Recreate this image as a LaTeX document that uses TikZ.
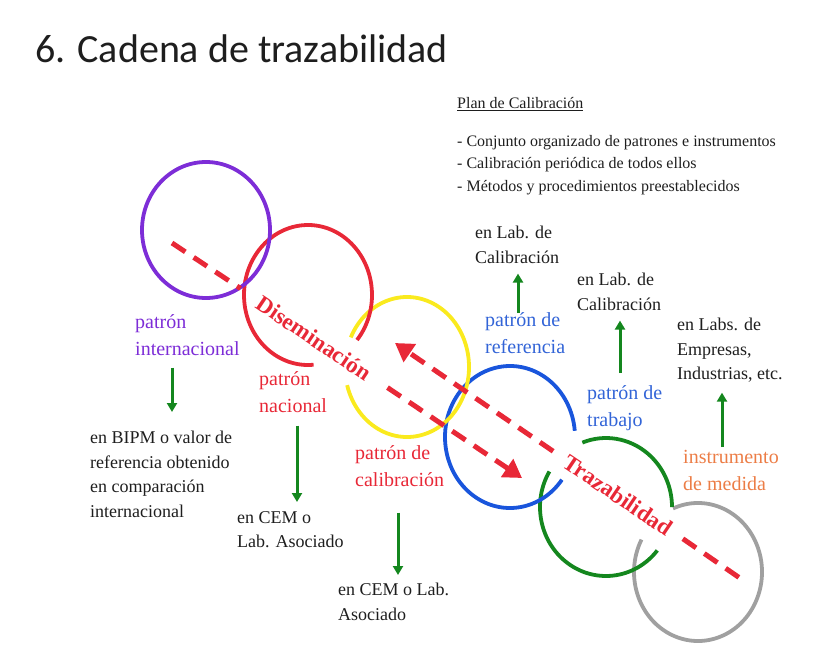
\documentclass[tikz,border=0pt]{standalone}
\usepackage{fontspec}
\setmainfont{Liberation Serif}
\newfontfamily\titlefont{Carlito}
\usetikzlibrary{arrows.meta}
\definecolor{violeta}{RGB}{125,45,215}
\definecolor{rojo}{RGB}{232,40,55}
\definecolor{amarillo}{RGB}{250,234,30}
\definecolor{azul}{RGB}{25,85,220}
\definecolor{azultxt}{RGB}{50,100,215}
\definecolor{verde}{RGB}{20,135,30}
\definecolor{gris}{RGB}{160,160,160}
\definecolor{naranja}{RGB}{236,125,70}
\definecolor{tinta}{RGB}{30,30,30}

\begin{document}
\begin{tikzpicture}[
    x=1pt, y=-1pt,
    anillo/.style={line width=3.8pt},
    etiqueta/.style={anchor=north west, align=left, inner sep=0pt, text=tinta, font=\fontsize{18}{24.5}\selectfont},
    patron/.style={anchor=north west, align=left, inner sep=0pt, font=\fontsize{20}{27}\selectfont},
    flecha/.style={draw=verde, line width=3pt, -{Triangle[length=9pt, width=10pt]}},
    eje/.style={draw=rojo, line width=5pt, dash pattern=on 16pt off 10pt},
    punta/.style={-{Triangle[length=18pt, width=21pt]}},
    ejetexto/.style={text=rojo, font=\fontsize{23}{23}\selectfont\bfseries, inner ysep=0pt, rotate=-34}
]
\useasboundingbox (0,0) rectangle (836,658);

% Titulo
\node[anchor=base west, inner sep=0pt, text=tinta, font=\titlefont\fontsize{40}{40}\selectfont] (titulo) at (35,63) {6. Cadena de trazabilidad};

% Plan de calibracion
\node[anchor=base west, inner sep=0pt, text=tinta, font=\fontsize{16}{22.5}\selectfont] (plan) at (457,109) {\underline{Plan de Calibración}};
\node[etiqueta, font=\fontsize{16}{22.5}\selectfont] (lista) at (457,135) {- Conjunto organizado de patrones e instrumentos\\- Calibración periódica de todos ellos\\- Métodos y procedimientos preestablecidos};

% Anillos de la cadena
\draw[anillo, gris] (698,572) ++(247:64 and 69) arc[start angle=247, end angle=568, x radius=64, y radius=69];
\draw[anillo, verde] (606,507) ++(-111:66 and 69) arc[start angle=-111, end angle=0, x radius=66, y radius=69];
\draw[anillo, verde] (606,507) ++(39:66 and 69) arc[start angle=39, end angle=211, x radius=66, y radius=69];
\draw[anillo, azul] (510,437) ++(37:65 and 71) arc[start angle=37, end angle=355, x radius=65, y radius=71];
\draw[anillo, amarillo] (407,367) ++(205:62 and 70) arc[start angle=205, end angle=525, x radius=62, y radius=70];
\draw[anillo, rojo] (308,295) ++(85:64 and 70) arc[start angle=85, end angle=400, x radius=64, y radius=70];
\draw[anillo, violeta] (206,230) ellipse [x radius=64, y radius=68];

% Diseminacion y trazabilidad
\coordinate (disIni) at (172,243);
\coordinate (disFin) at (522,478);
\coordinate (trzIni) at (747,583);
\coordinate (trzFin) at (395,343);
\node[ejetexto, inner xsep=22pt] (dis) at (314,338) {Diseminación};
\node[ejetexto, inner xsep=15pt] (trz) at (618,495) {Trazabilidad};
\draw[eje] (disIni) -- (dis.west);
\draw[eje, punta] (dis.east) -- (disFin);
\draw[eje, punta] (trz.west) -- (trzFin);
\draw[eje] (trz.east) -- (trzIni);

% Patrones
\node[patron, text=violeta] (pint) at (135,314) {patrón\\internacional};
\node[patron, text=rojo] (pnac) at (259,371) {patrón\\nacional};
\node[patron, text=rojo] (pcal) at (355,445) {patrón de\\calibración};
\node[patron, text=azultxt] (pref) at (485,312) {patrón de\\referencia};
\node[patron, text=azultxt] (ptra) at (587,385) {patrón de\\trabajo};
\node[patron, text=naranja] (inst) at (683,450) {instrumento\\de medida};

% Donde se mantienen
\node[etiqueta] (bipm) at (90,431) {en BIPM o valor de\\referencia obtenido\\en comparación\\internacional};
\node[etiqueta] (cem1) at (237,511) {en CEM o\\Lab. Asociado};
\node[etiqueta] (cem2) at (338,583) {en CEM o Lab.\\Asociado};
\node[etiqueta] (labref) at (475,226) {en Lab. de\\Calibración};
\node[etiqueta] (labtra) at (577,273) {en Lab. de\\Calibración};
\node[etiqueta] (labemp) at (677,318) {en Labs. de\\Empresas,\\Industrias, etc.};

% Flechas verdes
\coordinate (c1) at (172,0);
\coordinate (c2) at (297,0);
\coordinate (c3) at (398,0);
\coordinate (c4) at (518,0);
\coordinate (c5) at (620,0);
\coordinate (c6) at (722,0);
\draw[flecha, shorten <=12pt, shorten >=19pt] (pint.south -| c1) -- (bipm.north -| c1);
\draw[flecha, shorten <=13pt, shorten >=9pt] (pnac.south -| c2) -- (cem1.north -| c2);
\draw[flecha, shorten <=26pt, shorten >=8pt] (pcal.south -| c3) -- (cem2.north -| c3);
\draw[flecha, shorten <=-1pt, shorten >=10pt] (pref.north -| c4) -- (labref.south -| c4);
\draw[flecha, shorten <=12pt, shorten >=10pt] (ptra.north -| c5) -- (labtra.south -| c5);
\draw[flecha, shorten <=3pt, shorten >=10pt] (inst.north -| c6) -- (labemp.south -| c6);

\end{tikzpicture}
\end{document}
